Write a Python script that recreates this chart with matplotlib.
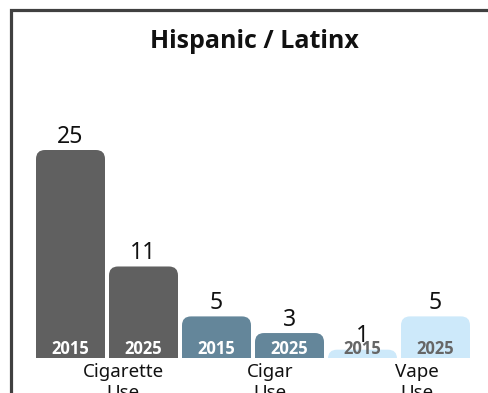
import matplotlib
matplotlib.use("Agg")
import matplotlib.pyplot as plt
from matplotlib.patches import FancyBboxPatch, Rectangle

plt.rcParams["font.family"] = ["Noto Sans", "DejaVu Sans"]
BOLD_FONT = ["Open Sans", "Roboto", "DejaVu Sans"]

TITLE = "Hispanic / Latinx"
YEARS = ["2015", "2025", "2015", "2025", "2015", "2025"]
VALUES = [25, 11, 5, 3, 1, 5]
COLORS = ["#606060", "#606060", "#64869a", "#64869a", "#cde9fa", "#cde9fa"]
YEAR_COLORS = ["white", "white", "white", "white", "#666666", "#666666"]
CATEGORIES = ["Cigarette\nUse", "Cigar\nUse", "Vape\nUse"]
CAT_POS = [0.72, 2.73, 4.75]

W, H, DPI = 489, 393, 100
fig = plt.figure(figsize=(W / DPI, H / DPI), dpi=DPI)

# frame: left and top edges only, the rest runs off the canvas
fig.patches.append(Rectangle((10.5 / W, -0.1), 1.2, (H - 9.5) / H + 0.1,
                             transform=fig.transFigure, fill=False,
                             edgecolor="#404040", lw=2.3))

fig.text(254 / W, 1 - 42 / H, TITLE, ha="center", va="center",
         fontsize=18, fontweight="bold", color="#111111", family=BOLD_FONT)

px_per_x, px_per_y = 73.0, 8.32
ax = fig.add_axes([12 / W, 35 / H, (W - 12) / W, 345 / H])
ax.set_xlim((12 - 70.5) / px_per_x, (W - 70.5) / px_per_x)
ax.set_ylim(0, 345 / px_per_y)
ax.axis("off")

bw = 69 / px_per_x
r = 9 / px_per_x
aspect = px_per_x / px_per_y
for i, (v, c) in enumerate(zip(VALUES, COLORS)):
    # rounded top, square bottom: start the box below the baseline, axes clip it
    ax.add_patch(FancyBboxPatch((i - bw / 2, -r * aspect), bw, v + r * aspect,
                                boxstyle=f"round,pad=0,rounding_size={r}",
                                mutation_aspect=aspect, fc=c, ec="none"))
    ax.annotate(str(v), (i, v), xytext=(0, 5.2), textcoords="offset points",
                ha="center", va="baseline", fontsize=16.5, color="#111111")
    ax.annotate(YEARS[i], (i, 0), xytext=(0, 6.8), textcoords="offset points",
                ha="center", va="center", fontsize=12, fontweight="bold",
                color=YEAR_COLORS[i], family=BOLD_FONT)

for x, lab in zip(CAT_POS, CATEGORIES):
    ax.annotate(lab, (x, 0), xytext=(0, -3.8), textcoords="offset points",
                ha="center", va="top", fontsize=13.5, color="#111111",
                linespacing=1.2, annotation_clip=False)

fig.savefig("out.png", dpi=DPI)
